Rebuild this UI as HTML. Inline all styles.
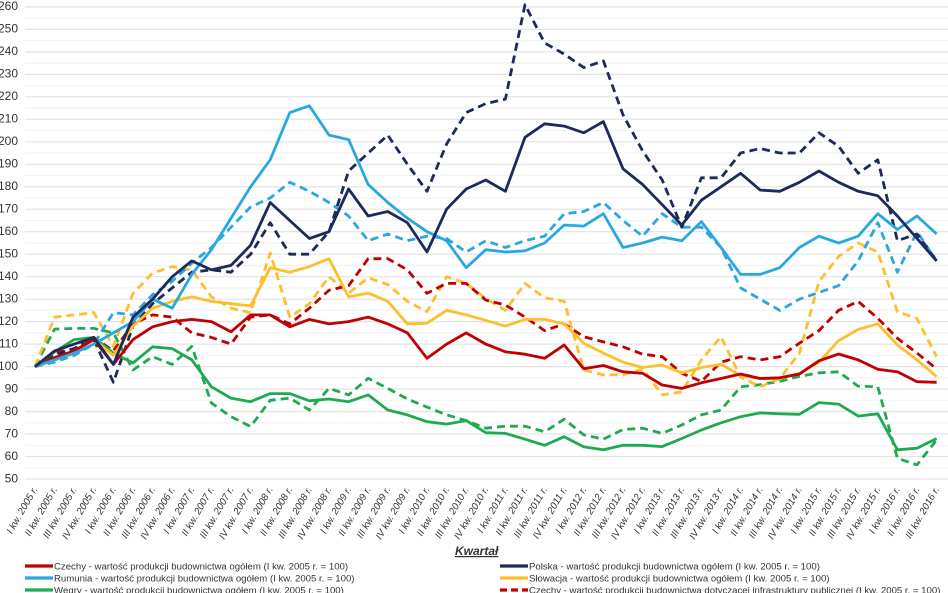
<!DOCTYPE html>
<html><head><meta charset="utf-8"><style>
html,body{margin:0;padding:0;background:#fff;width:948px;height:593px;overflow:hidden}
svg{display:block}
text{font-family:"Liberation Sans",sans-serif;fill:#333}
</style></head><body>
<svg id="c" width="948" height="593" viewBox="0 0 948 593" xmlns="http://www.w3.org/2000/svg">
<g id="grid"></g>
<g font-size="12" text-anchor="end">
<text x="18" y="10">260</text><text x="18" y="32.5">250</text><text x="18" y="55">240</text><text x="18" y="77.5">230</text><text x="18" y="100">220</text><text x="18" y="122.5">210</text><text x="18" y="145">200</text><text x="18" y="167.5">190</text><text x="18" y="190">180</text><text x="18" y="212.5">170</text><text x="18" y="235">160</text><text x="18" y="257.5">150</text><text x="18" y="280">140</text><text x="18" y="302.5">130</text><text x="18" y="325">120</text><text x="18" y="347.5">110</text><text x="18" y="370">100</text><text x="18" y="392.5">90</text><text x="18" y="415">80</text><text x="18" y="437.5">70</text><text x="18" y="460">60</text><text x="18" y="482.5">50</text>
</g>
<g id="series"></g>
<g font-size="9.8" font-style="italic" text-anchor="end" id="xl">
<text>I kw. 2005 r.</text><text>II kw. 2005 r.</text><text>III kw. 2005 r.</text><text>IV kw. 2005 r.</text>
<text>I kw. 2006 r.</text><text>II kw. 2006 r.</text><text>III kw. 2006 r.</text><text>IV kw. 2006 r.</text>
<text>I kw. 2007 r.</text><text>II kw. 2007 r.</text><text>III kw. 2007 r.</text><text>IV kw. 2007 r.</text>
<text>I kw. 2008 r.</text><text>II kw. 2008 r.</text><text>III kw. 2008 r.</text><text>IV kw. 2008 r.</text>
<text>I kw. 2009 r.</text><text>II kw. 2009 r.</text><text>III kw. 2009 r.</text><text>IV kw. 2009 r.</text>
<text>I kw. 2010 r.</text><text>II kw. 2010 r.</text><text>III kw. 2010 r.</text><text>IV kw. 2010 r.</text>
<text>I kw. 2011 r.</text><text>II kw. 2011 r.</text><text>III kw. 2011 r.</text><text>IV kw. 2011 r.</text>
<text>I kw. 2012 r.</text><text>II kw. 2012 r.</text><text>III kw. 2012 r.</text><text>IV kw. 2012 r.</text>
<text>I kw. 2013 r.</text><text>II kw. 2013 r.</text><text>III kw. 2013 r.</text><text>IV kw. 2013 r.</text>
<text>I kw. 2014 r.</text><text>II kw. 2014 r.</text><text>III kw. 2014 r.</text><text>IV kw. 2014 r.</text>
<text>I kw. 2015 r.</text><text>II kw. 2015 r.</text><text>III kw. 2015 r.</text><text>IV kw. 2015 r.</text>
<text>I kw. 2016 r.</text><text>II kw. 2016 r.</text><text>III kw. 2016 r.</text>
</g>
<text x="455" y="555" font-size="12" font-weight="bold" font-style="italic" text-decoration="underline" fill="#333">Kwartał</text>
<g font-size="9.6">
<line x1="25" y1="566" x2="53" y2="566" stroke="#c00000" stroke-width="3.2"/>
<text x="54" y="569.5">Czechy - wartość produkcji budownictwa ogółem (I kw. 2005 r. = 100)</text>
<line x1="25" y1="578" x2="53" y2="578" stroke="#29a8e0" stroke-width="3.2"/>
<text x="54" y="581.5">Rumunia - wartość produkcji budownictwa ogółem (I kw. 2005 r. = 100)</text>
<line x1="25" y1="590" x2="53" y2="590" stroke="#1faa50" stroke-width="3.2"/>
<text x="54" y="593.5">Węgry - wartość produkcji budownictwa ogółem (I kw. 2005 r. = 100)</text>
<line x1="500" y1="566" x2="528" y2="566" stroke="#1c2a5c" stroke-width="3.2"/>
<text x="529" y="569.5">Polska - wartość produkcji budownictwa ogółem (I kw. 2005 r. = 100)</text>
<line x1="500" y1="578" x2="528" y2="578" stroke="#fdbf2d" stroke-width="3.2"/>
<text x="529" y="581.5">Słowacja - wartość produkcji budownictwa ogółem (I kw. 2005 r. = 100)</text>
<line x1="500" y1="590" x2="528" y2="590" stroke="#c00000" stroke-width="3.2" stroke-dasharray="7,4"/>
<text x="529" y="593.5">Czechy - wartość produkcji budownictwa dotyczącej infrastruktury publicznej (I kw. 2005 r. = 100)</text>
</g>
</svg>
<script>
function Y(v){return 479-(v-50)*2.248;}
function X(i){return 35+19.6*i;}
var g=document.getElementById('grid'),s="";
for(var v=50;v<=260;v+=5){var y=Y(v).toFixed(1);s+='<line x1="25" x2="948" y1="'+y+'" y2="'+y+'" stroke="'+(v%10?'#f2f2f2':'#e3e3e3')+'" stroke-width="1.2"/>';}
g.innerHTML=s;
var series=[
["#1faa50",1,[100,116.7,117,117,115,98.5,104.4,101,109,83.8,77.7,73.3,85,86,80.7,90.3,87.4,94.8,90.3,85.6,82,78.5,76,72.6,73.5,73.5,71,76.6,69.6,67.7,72,72.6,70.3,74,78.5,80.7,91,92,93.4,95.7,97.2,97.7,91.3,91,59.2,56.3,67.4]],
["#fdbf2d",1,[100,122,123,124,109,132.6,141.6,144.5,143,131,126,124,150.5,122,128,140,132.7,139.5,136.5,129,124.4,140,137,130.3,125,137,130.6,129,98.5,96.3,96.3,99,87.4,88.8,103,113.3,95.3,91,94.7,106,137.8,149,155,151,124.4,121.4,104.4]],
["#29a8e0",1,[100,102,105,110,124,123,132,138,146,153,162,171,175,182,178,173,167,156,159,156,158,157,151,156,153,156,158,168,169,173,165,158,168,162,162,153,135,130,125,130,133,136,147,164,142,160,147]],
["#c00000",1,[100,106,108,113,107,119,123,122,115,113,110,122,123,119,126,134,136,148,148,143,132.6,137,137,129.6,127.4,122,116,119,113.3,111,108.8,105.5,104.4,97,93.4,102,104.4,103,104.4,110.4,116,125,129,121.5,112.6,106,99]],
["#1c2a5c",1,[100,105,108,112,93,118,128,135,142,143,142,150,164,150,150,160,187,195,203,190,178,199,213,217,219,261,244,239,233,236,212,196,183,162,184,184,195,197,195,195,204,198,186,192,156,159,147]],
["#1faa50",0,[100,106.6,112,113,106,101.6,108.8,108,103,91,86,84.4,88,88,84.8,85.6,84.4,87.4,80.7,78.5,75.5,74.4,76,70.6,70.3,67.7,65,68.8,64.3,63,65,65,64.4,68,71.8,75,77.7,79.4,79,78.8,84,83.3,78,79,63,63.7,68]],
["#fdbf2d",0,[100,103,107,112,105,118,126,129,131,129,128,127,144,142,144.5,148,131,132.7,129,119,119.3,125,123,120.6,118,121,121,119,110.4,106,102,99.6,100.7,97.2,99.6,101,96,94.7,94.7,97,102,111.5,116.6,119,109.6,103,95.5]],
["#c00000",0,[100,104,107,112,101,112,117.7,120,121,120,115.5,123,123,117.7,121,119,120,122,119,115,103.7,110,115,110,106.6,105.5,103.7,109.6,99,100.5,97.7,97,91.8,90.3,92.8,94.7,96.7,94.7,95,96.7,102.6,105.6,103,98.8,97.7,93.3,93]],
["#29a8e0",0,[100,103,106,110,115,120,130,126,141,152,166,180,192,213,216,203,201,181,173,166,160,156,144,152,151,151.5,155,163,162.5,168,153,155,157.6,156,164.5,153,141,141,144,153,158,155,158,168,161,167,159]],
["#1c2a5c",0,[100,107,110,113,101,122,130,140,147,143,145,154,173,165,157,160,179,167,169,164,151,170,179,183,178,202,208,207,204,209,188,181,172,163,174,180,186,178.5,178,182,187,182,178,176,167,157,147]]
];
var h="";
series.forEach(function(se){var p=se[2].map(function(v,i){return X(i).toFixed(1)+","+Y(v).toFixed(1)}).join(" ");
h+='<polyline fill="none" stroke="'+se[0]+'" stroke-width="2.8" stroke-linejoin="round" points="'+p+'"'+(se[1]?' stroke-dasharray="8,5"':'')+'/>';});
document.getElementById('series').innerHTML=h;
var t=document.getElementById('xl').getElementsByTagName('text');
for(var i=0;i<t.length;i++){var x=X(i)+3,y=489;t[i].setAttribute('x',x);t[i].setAttribute('y',y);t[i].setAttribute('transform','rotate(-60 '+x+' '+y+')');}
</script>
</body></html>
